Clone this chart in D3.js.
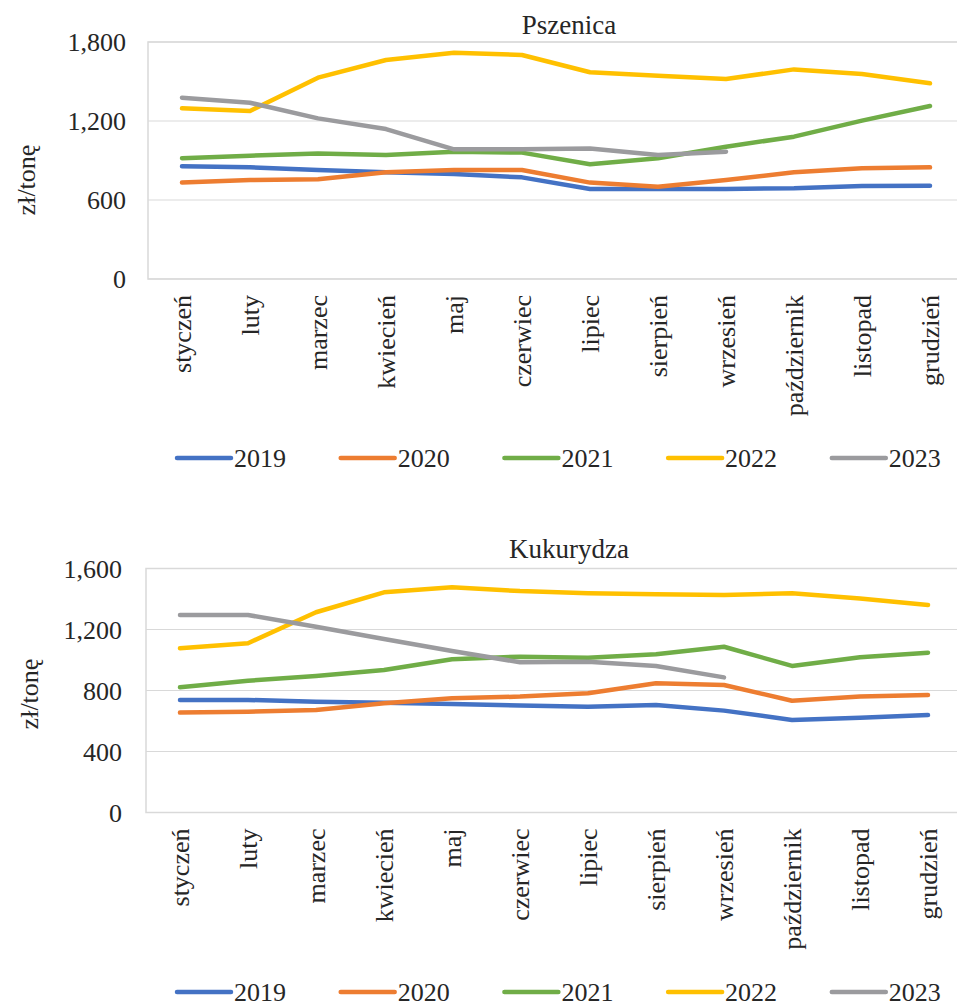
<!DOCTYPE html>
<html lang="pl">
<head>
<meta charset="utf-8">
<script src="https://cdn.jsdelivr.net/npm/d3@7"></script>
<style>
  html, body { margin: 0; padding: 0; background: #fff; }
  svg { display: block; }
</style>
</head>
<body>
<svg id="chart" width="957" height="1006"></svg>
<script>
// Months (x categories)
const months = ["styczeń", "luty", "marzec", "kwiecień", "maj", "czerwiec",
  "lipiec", "sierpień", "wrzesień", "październik", "listopad", "grudzień"];
const years = ["2019", "2020", "2021", "2022", "2023"];

// Pszenica – ceny w zł/tonę
const wheat2019 = [856, 848, 828, 810, 797, 772, 684, 684, 684, 689, 706, 709];
const wheat2020 = [732, 752, 757, 810, 828, 828, 732, 701, 752, 810, 841, 848];
const wheat2021 = [917, 937, 954, 942, 967, 960, 871, 917, 1005, 1081, 1203, 1314];
const wheat2022 = [1296, 1276, 1529, 1663, 1719, 1701, 1570, 1544, 1519, 1592, 1557, 1486];
const wheat2023 = [1377, 1339, 1220, 1139, 985, 985, 992, 942, 967];
const wheatTicks = [0, 600, 1200, 1800];

// Kukurydza – ceny w zł/tonę
const corn2019 = [738, 738, 727, 720, 711, 701, 694, 705, 668, 607, 622, 639];
const corn2020 = [655, 661, 672, 716, 749, 760, 782, 847, 836, 733, 760, 770];
const corn2021 = [821, 864, 895, 934, 1005, 1022, 1015, 1037, 1087, 961, 1018, 1048];
const corn2022 = [1077, 1110, 1313, 1444, 1477, 1452, 1437, 1431, 1426, 1437, 1404, 1361];
const corn2023 = [1295, 1295, 1218, 1138, 1059, 985, 989, 961, 886];
const cornTicks = [0, 400, 800, 1200, 1600];

const colors = ["#4472C4", "#ED7D31", "#70AD47", "#FFC000", "#9b9b9e"];
const FONT = "'Liberation Serif', 'Times New Roman', Times, 'DejaVu Serif', serif";
const INK = "#262626";
const svg = d3.select("#chart");

const panels = [
  { title: "Pszenica", series: [wheat2019, wheat2020, wheat2021, wheat2022, wheat2023],
    ticks: wheatTicks, left: 148, top: 42, bottom: 279, titleY: 34, tickX: 126,
    yTitleX: 26, yTitleY: 180, legendY: 458 },
  { title: "Kukurydza", series: [corn2019, corn2020, corn2021, corn2022, corn2023],
    ticks: cornTicks, left: 146, top: 568.5, bottom: 812.5, titleY: 558, tickX: 122,
    yTitleX: 29, yTitleY: 694, legendY: 992 }
];

function label(sel, size) {
  return sel.attr("font-family", FONT).attr("font-size", size).attr("fill", INK);
}

panels.forEach(p => {
  const g = svg.append("g");
  const x = d3.scaleBand().domain(months).range([p.left, p.left + 68 * months.length]);
  const y = d3.scaleLinear().domain([0, d3.max(p.ticks)]).range([p.bottom, p.top]);
  const cx = m => x(m) + x.bandwidth() / 2;

  // gridlines
  g.selectAll("line.grid").data(p.ticks).join("line")
    .attr("x1", p.left).attr("x2", x.range()[1])
    .attr("y1", d => y(d)).attr("y2", d => y(d))
    .attr("stroke", "#d9d9d9").attr("stroke-width", 1.2);
  // plot frame
  g.append("rect")
    .attr("x", p.left).attr("y", p.top)
    .attr("width", x.range()[1] - p.left).attr("height", p.bottom - p.top)
    .attr("fill", "none").attr("stroke", "#d9d9d9").attr("stroke-width", 1.5);

  // y tick labels
  g.selectAll("text.ytick").data(p.ticks).join("text")
    .attr("x", p.tickX).attr("y", d => y(d)).attr("dy", "0.35em")
    .attr("text-anchor", "end").call(label, 26)
    .text(d3.format(","));

  // y axis title
  g.append("text")
    .attr("transform", `translate(${p.yTitleX},${p.yTitleY}) rotate(-90)`)
    .attr("text-anchor", "middle").attr("dy", "0.35em")
    .call(label, 26).text("zł/tonę");

  // chart title
  g.append("text").attr("x", 569).attr("y", p.titleY)
    .attr("text-anchor", "middle").call(label, 27).text(p.title);

  // x category labels, rotated
  g.selectAll("text.xlab").data(months).join("text")
    .attr("transform", d => `translate(${cx(d)},${p.bottom + 16}) rotate(-90)`)
    .attr("text-anchor", "end").attr("dy", "0.33em")
    .call(label, 26).text(d => d);

  // series lines
  const line = d3.line()
    .x((d, i) => cx(months[i]))
    .y(d => y(d));
  p.series.forEach((s, i) => {
    g.append("path").datum(s)
      .attr("d", line)
      .attr("fill", "none").attr("stroke", colors[i])
      .attr("stroke-width", 4.5)
      .attr("stroke-linejoin", "round").attr("stroke-linecap", "round");
  });

  // legend
  const leg = g.selectAll("g.leg").data(years).join("g")
    .attr("transform", (d, i) => `translate(${177 + i * 163.7},${p.legendY})`);
  leg.append("line").attr("x1", 0).attr("x2", 54).attr("y1", 0).attr("y2", 0)
    .attr("stroke", (d, i) => colors[i]).attr("stroke-width", 4.5)
    .attr("stroke-linecap", "round");
  leg.append("text").attr("x", 57).attr("y", 0).attr("dy", "0.35em")
    .call(label, 26).text(d => d);
});
</script>
</body>
</html>
